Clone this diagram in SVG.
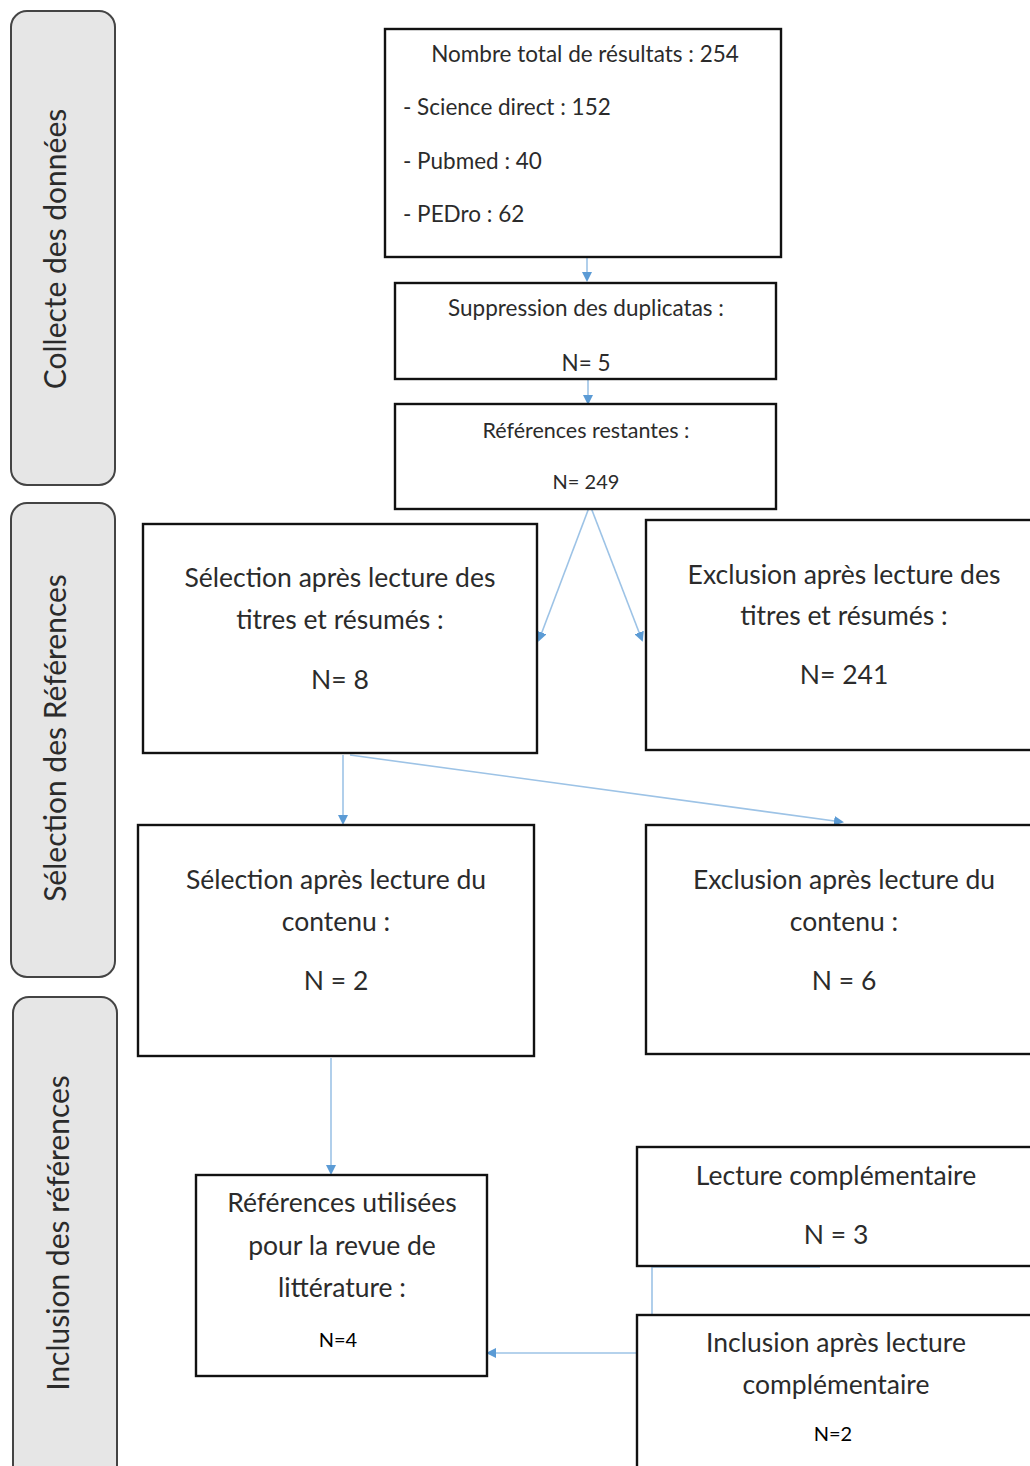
<svg xmlns="http://www.w3.org/2000/svg" width="1030" height="1466" viewBox="0 0 1030 1466">
<defs>
<style>
.side{fill:#e6e6e6;stroke:#444;stroke-width:2}
.box{fill:#fff;stroke:#111;stroke-width:2.4}
.t{font-family:Lato,"Open Sans",sans-serif;fill:#2b2b2b;text-anchor:middle}
.sl{font-family:Lato,"Open Sans",sans-serif;fill:#2b2b2b;text-anchor:middle;font-size:30px}
.big{font-size:26.5px}
.mid{font-size:22.5px}
.blk{fill:#000;font-size:20px}
.c{fill:none;stroke:#9dc3e6;stroke-width:1.6}
</style>
<marker id="ah" markerWidth="10" markerHeight="10" refX="8" refY="5" orient="auto" markerUnits="userSpaceOnUse">
<path d="M0,0 L10,5 L0,10 Z" fill="#5b9bd5"/>
</marker>
</defs>
<rect width="1030" height="1466" fill="#fff"/>
<g id="side1"><rect class="side" x="11" y="11" width="104" height="474" rx="16"/><text class="sl" transform="translate(66,249) rotate(-90)">Collecte des données</text></g>
<g id="side2"><rect class="side" x="11" y="503" width="104" height="474" rx="16"/><text class="sl" transform="translate(66,738) rotate(-90)">Sélection des Références</text></g>
<g id="side3"><rect class="side" x="13" y="997" width="104" height="490" rx="16"/><text class="sl" transform="translate(69,1233) rotate(-90)">Inclusion des références</text></g>

<g id="connectors">
<line class="c" x1="587" y1="250" x2="587" y2="280" marker-end="url(#ah)"/>
<line class="c" x1="588" y1="379" x2="588" y2="403" marker-end="url(#ah)"/>
<line class="c" x1="590" y1="505" x2="539" y2="640" marker-end="url(#ah)"/>
<line class="c" x1="590" y1="505" x2="642" y2="640" marker-end="url(#ah)"/>
<line class="c" x1="343" y1="755" x2="343" y2="823" marker-end="url(#ah)"/>
<line class="c" x1="350" y1="755" x2="842" y2="822" marker-end="url(#ah)"/>
<line class="c" x1="331" y1="1058" x2="331" y2="1173" marker-end="url(#ah)"/>
<polyline class="c" points="820,1267 652,1267 652,1314"/>
<line class="c" x1="636" y1="1353" x2="488" y2="1353" marker-end="url(#ah)"/>
</g>

<g id="n1"><rect class="box" x="385" y="29" width="396" height="228"/>
<text class="t mid" x="585" y="62">Nombre total de résultats : 254</text>
<text class="t mid" x="403" y="115" style="text-anchor:start">- Science direct : 152</text>
<text class="t mid" x="403" y="169" style="text-anchor:start">- Pubmed : 40</text>
<text class="t mid" x="403" y="222" style="text-anchor:start">- PEDro : 62</text></g>

<g id="n2"><rect class="box" x="395" y="283" width="381" height="96"/>
<text class="t mid" x="586" y="316">Suppression des duplicatas :</text>
<text class="t mid" x="586" y="371">N= 5</text></g>

<g id="n3"><rect class="box" x="395" y="404" width="381" height="105"/>
<text class="t" style="font-size:21.5px" x="586" y="438">Références restantes :</text>
<text class="t" style="font-size:20px" x="586" y="489">N= 249</text></g>

<g id="n4"><rect class="box" x="143" y="524" width="394" height="229"/>
<text class="t big" x="340" y="587">Sélection après lecture des</text>
<text class="t big" x="340" y="629">titres et résumés :</text>
<text class="t big" x="340" y="689">N= 8</text></g>

<g id="n5"><rect class="box" x="646" y="520" width="390" height="230"/>
<text class="t big" x="844" y="584">Exclusion après lecture des</text>
<text class="t big" x="844" y="625">titres et résumés :</text>
<text class="t big" x="844" y="684">N= 241</text></g>

<g id="n6"><rect class="box" x="138" y="825" width="396" height="231"/>
<text class="t big" x="336" y="889">Sélection après lecture du</text>
<text class="t big" x="336" y="931">contenu :</text>
<text class="t big" x="336" y="990">N = 2</text></g>

<g id="n7"><rect class="box" x="646" y="825" width="390" height="229"/>
<text class="t big" x="844" y="889">Exclusion après lecture du</text>
<text class="t big" x="844" y="931">contenu :</text>
<text class="t big" x="844" y="990">N = 6</text></g>

<g id="n8"><rect class="box" x="196" y="1175" width="291" height="201"/>
<text class="t big" x="342" y="1212">Références utilisées</text>
<text class="t big" x="342" y="1255">pour la revue de</text>
<text class="t big" x="342" y="1297">littérature :</text>
<text class="t blk" x="338" y="1347">N=4</text></g>

<g id="n9"><rect class="box" x="637" y="1147" width="399" height="119"/>
<text class="t big" x="836" y="1185">Lecture complémentaire</text>
<text class="t big" x="836" y="1244">N = 3</text></g>

<g id="n10"><rect class="box" x="637" y="1315" width="399" height="170"/>
<text class="t big" x="836" y="1352">Inclusion après lecture</text>
<text class="t big" x="836" y="1394">complémentaire</text>
<text class="t blk" x="833" y="1441">N=2</text></g>
</svg>
